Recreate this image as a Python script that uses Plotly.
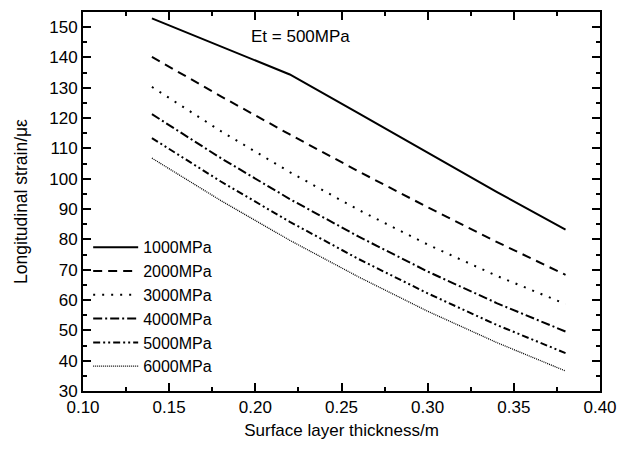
import plotly.graph_objects as go

thickness = [0.14, 0.18, 0.22, 0.26, 0.30, 0.34, 0.38]
series_names = ["1000MPa", "2000MPa", "3000MPa", "4000MPa", "5000MPa", "6000MPa"]
strain_1000 = [152.9, 143.6, 134.4, 121.6, 108.6, 95.7, 83.2]
strain_2000 = [140.2, 127.2, 114.6, 102.4, 90.6, 79.2, 68.3]
strain_3000 = [130.3, 115.7, 102.2, 89.7, 78.3, 68.0, 58.7]
strain_4000 = [121.3, 106.8, 93.3, 80.9, 69.4, 59.0, 49.6]
strain_5000 = [113.4, 99.1, 85.8, 73.5, 62.2, 51.8, 42.5]
strain_6000 = [106.8, 92.8, 79.7, 67.6, 56.3, 46.0, 36.6]
x_ticks = [0.10, 0.15, 0.20, 0.25, 0.30, 0.35, 0.40]
y_ticks = [30, 40, 50, 60, 70, 80, 90, 100, 110, 120, 130, 140, 150]

all_series = [strain_1000, strain_2000, strain_3000, strain_4000, strain_5000, strain_6000]
styles = [
    dict(dash="solid", width=2),
    dict(dash="9px,6px", width=2),
    dict(dash="2px,7px", width=2),
    dict(dash="9px,3px,2px,3px", width=2),
    dict(dash="7px,3px,2px,3px,2px,3px", width=2),
    dict(dash="1px,1px", width=1.3),
]

FONT = "Liberation Sans, Arial, sans-serif"

fig = go.Figure()
for name, ys, st in zip(series_names, all_series, styles):
    fig.add_trace(go.Scatter(
        x=thickness, y=ys, mode="lines", name=name,
        line=dict(color="black", width=st["width"], dash=st["dash"]),
    ))

axis_common = dict(
    showline=True, linecolor="black", linewidth=2, mirror="ticks",
    ticks="inside", ticklen=8, tickwidth=1.5, tickcolor="black",
    showgrid=False, zeroline=False,
    tickfont=dict(family=FONT, size=17, color="black"),
)

fig.update_xaxes(
    range=[0.10, 0.40], tickvals=x_ticks,
    ticktext=[f"{v:.2f}" for v in x_ticks],
    minor=dict(ticks="inside", ticklen=4, tickwidth=1.5, tickcolor="black", dtick=0.025, tick0=0.1),
    title=dict(text="Surface layer thickness/m", font=dict(family=FONT, size=17, color="black"), standoff=8),
    **axis_common,
)
fig.update_yaxes(
    range=[30, 155], tickvals=y_ticks,
    minor=dict(ticks="inside", ticklen=4, tickwidth=1.5, tickcolor="black", dtick=5, tick0=30),
    title=dict(text="Longitudinal strain/με", font=dict(family=FONT, size=17.5, color="black"), standoff=17),
    **axis_common,
)

fig.add_annotation(
    x=0.226, y=146.8, xref="x", yref="y", text="Et = 500MPa", showarrow=False,
    font=dict(family=FONT, size=17, color="black"),
)

fig.update_layout(
    width=630, height=454,
    margin=dict(l=83, r=30, t=10, b=63),
    paper_bgcolor="white", plot_bgcolor="white",
    showlegend=True,
    legend=dict(
        x=0.01, y=0.424, xanchor="left", yanchor="top",
        bgcolor="rgba(0,0,0,0)", borderwidth=0,
        font=dict(family=FONT, size=16, color="black"),
        itemwidth=45, tracegroupgap=0,
    ),
)

fig.write_html("out.html")
